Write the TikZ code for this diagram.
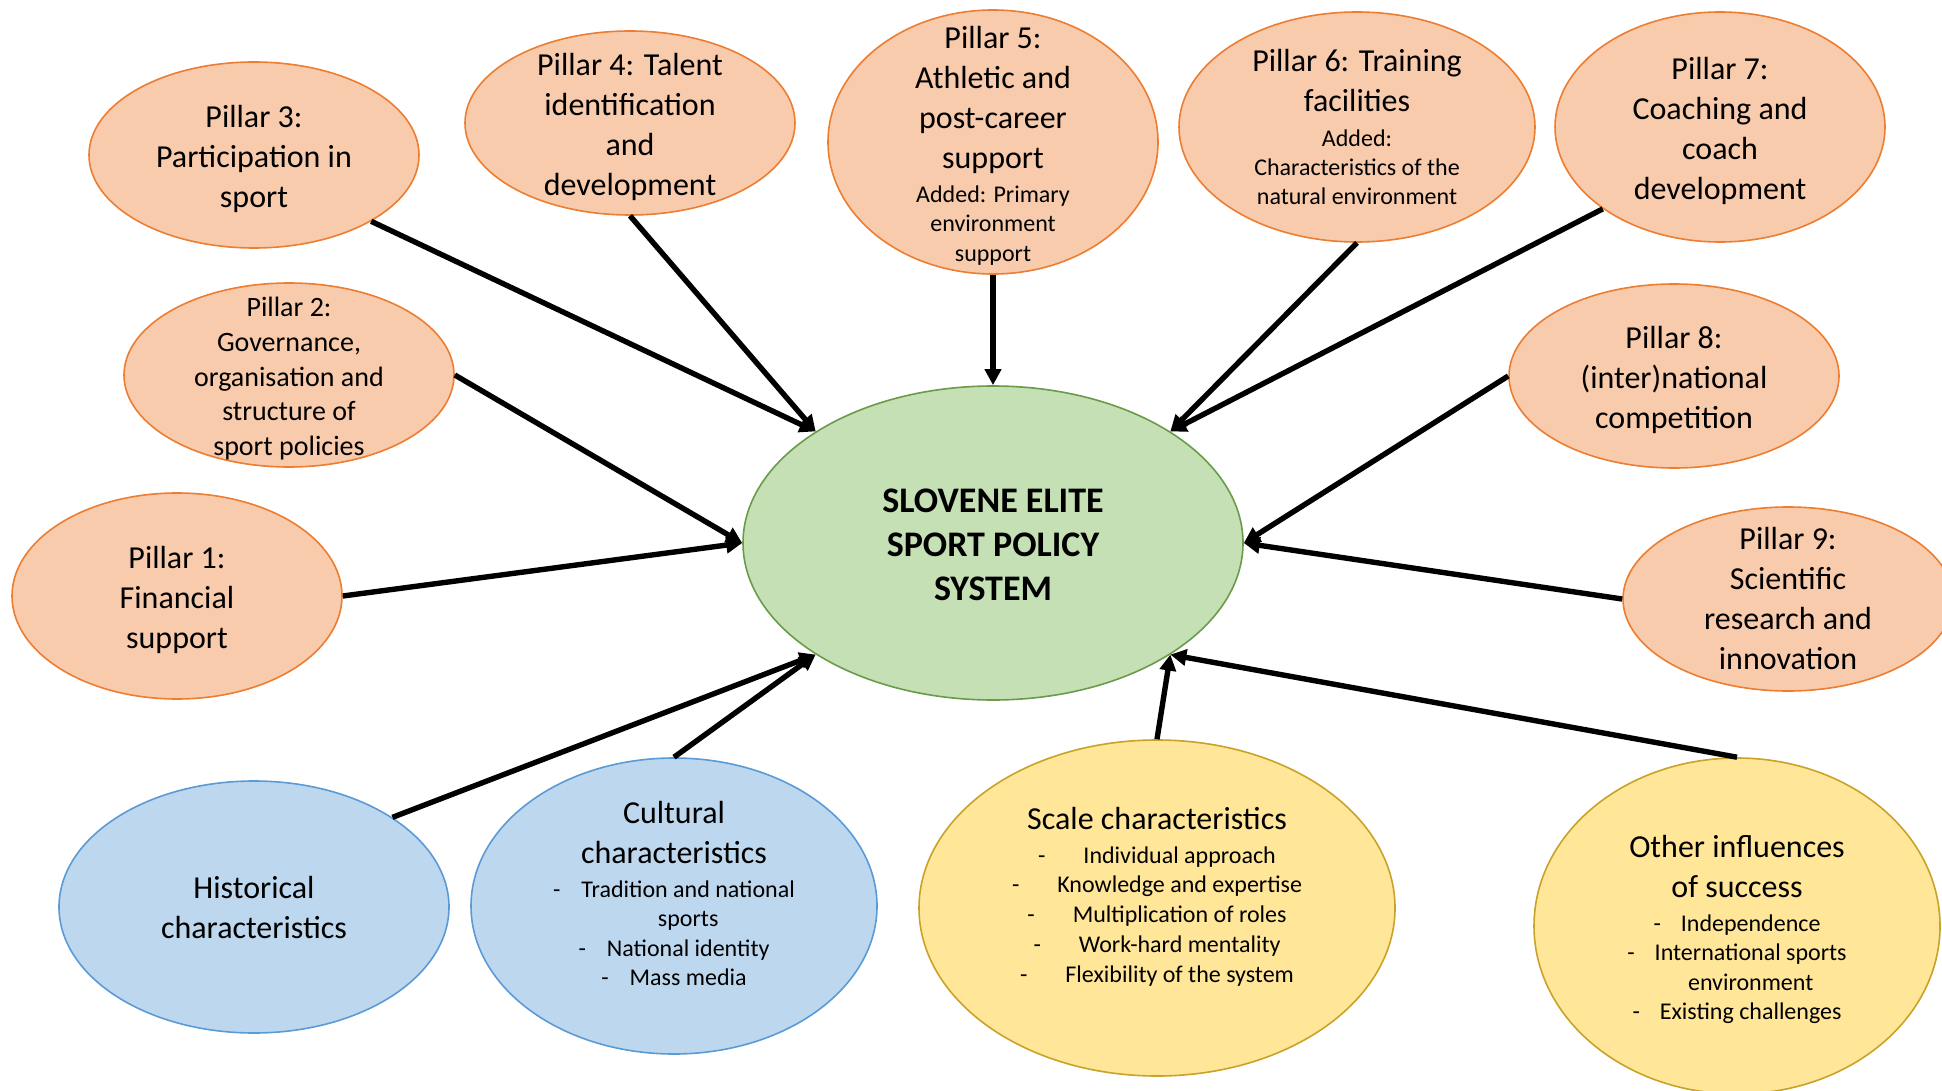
\documentclass[tikz,border=0pt]{standalone}
\usepackage{fontspec}
\setmainfont{Carlito}
\usetikzlibrary{arrows.meta,shapes.geometric}

\definecolor{pillarfill}{HTML}{F8CBAD}
\definecolor{pillarline}{HTML}{ED7D31}
\definecolor{corefill}{HTML}{C5E0B4}
\definecolor{coreline}{HTML}{6A9A4A}
\definecolor{contextfill}{HTML}{BDD7EE}
\definecolor{contextline}{HTML}{5B9BD5}
\definecolor{extrafill}{HTML}{FFE699}
\definecolor{extraline}{HTML}{C9A227}

\newcommand{\bigtext}{\fontsize{16}{20}\selectfont}
\newcommand{\midtext}{\fontsize{14}{17.4}\selectfont}
\newcommand{\smalltext}{\fontsize{12}{14.8}\selectfont}
\newcommand{\dashitem}[2]{\smalltext -\hspace{#1}#2}
\newcommand{\dashcont}[2]{\smalltext \phantom{-}\hspace{#1}#2}

\begin{document}
\begin{tikzpicture}[x=0.5pt, y=-0.5pt,
    bubble/.style={ellipse, line width=0.8pt, inner sep=0pt},
    pillar/.style={bubble, draw=pillarline, fill=pillarfill},
    core/.style={bubble, draw=coreline, fill=corefill},
    context/.style={bubble, draw=contextline, fill=contextfill},
    extra/.style={bubble, draw=extraline, fill=extrafill},
    txt/.style={align=center, inner sep=0pt, font=\bigtext, yshift=-1.8pt},
    link/.style={line width=2.7pt, -{Triangle[length=8pt, width=8pt]}}]
  \useasboundingbox (0, 0) rectangle (1942, 1091);

  % centre
  \node[core, minimum width=250pt, minimum height=157pt,
    label={[txt, yshift=1pt, font=\fontsize{18}{22}\selectfont\bfseries]center:SLOVENE ELITE\\SPORT POLICY\\SYSTEM}]
    (system) at (993, 543) {};

  % the nine pillars
  \node[pillar, minimum width=165pt, minimum height=103pt,
    label={[txt]center:Pillar 1:\\Financial\\support}] (pillar1) at (177, 596) {};
  \node[pillar, minimum width=165pt, minimum height=92pt,
    label={[txt, font=\midtext]center:Pillar 2:\\Governance,\\organisation and\\structure of\\sport policies}]
    (pillar2) at (289, 375) {};
  \node[pillar, minimum width=165pt, minimum height=93pt,
    label={[txt]center:Pillar 3:\\Participation in\\sport}] (pillar3) at (254, 155) {};
  \node[pillar, minimum width=165pt, minimum height=92pt,
    label={[txt]center:Pillar 4: Talent\\identification\\and\\development}] (pillar4) at (630, 123) {};
  \node[pillar, minimum width=165pt, minimum height=132pt,
    label={[txt]center:Pillar 5:\\Athletic and\\post-career\\support\\[-3pt]\smalltext Added: Primary\\[-5.2pt]\smalltext environment\\[-5.2pt]\smalltext support}]
    (pillar5) at (993, 142) {};
  \node[pillar, minimum width=178pt, minimum height=115pt,
    label={[txt, yshift=1.8pt]center:Pillar 6: Training\\facilities\\[-2.7pt]\smalltext Added:\\[-5.4pt]\smalltext Characteristics of the\\[-5.4pt]\smalltext natural environment}]
    (pillar6) at (1357, 127) {};
  \node[pillar, minimum width=165pt, minimum height=115pt,
    label={[txt]center:Pillar 7:\\Coaching and\\coach\\development}] (pillar7) at (1720, 127) {};
  \node[pillar, minimum width=165pt, minimum height=92pt,
    label={[txt]center:Pillar 8:\\(inter)national\\competition}] (pillar8) at (1674, 376) {};
  \node[pillar, minimum width=165pt, minimum height=92pt,
    label={[txt, yshift=1.8pt]center:Pillar 9:\\Scientific\\research and\\innovation}] (pillar9) at (1788, 599) {};

  % context and other influences
  \node[context, minimum width=195pt, minimum height=126pt,
    label={[txt, yshift=1.5pt]center:Historical\\characteristics}] (historical) at (254, 907) {};
  \node[context, minimum width=203pt, minimum height=148pt,
    label={[txt, yshift=8pt]center:Cultural\\characteristics\\[-3pt]\dashitem{10.5pt}{Tradition and national}\\[-5.3pt]\dashcont{10.5pt}{sports}\\[-5.3pt]\dashitem{10.5pt}{National identity}\\[-5.3pt]\dashitem{10.5pt}{Mass media}}]
    (cultural) at (674, 906) {};
  \node[extra, minimum width=238pt, minimum height=168pt,
    label={[txt, yshift=7.5pt]center:Scale characteristics\\[-3pt]\dashitem{19pt}{Individual approach}\\[-5.1pt]\dashitem{19pt}{Knowledge and expertise}\\[-5.1pt]\dashitem{19pt}{Multiplication of roles}\\[-5.1pt]\dashitem{19pt}{Work-hard mentality}\\[-5.1pt]\dashitem{19pt}{Flexibility of the system}}]
    (scalechar) at (1157, 908) {};
  \node[extra, minimum width=203pt, minimum height=168pt,
    label={[txt]center:Other influences\\of success\\[-3pt]\dashitem{10pt}{Independence}\\[-5.3pt]\dashitem{10pt}{International sports}\\[-5.3pt]\dashcont{10pt}{environment}\\[-5.3pt]\dashitem{10pt}{Existing challenges}}]
    (other) at (1737, 926) {};

  % arrows into the centre
  \draw[link] (pillar3.south east) -- (system.north west);
  \draw[link] (pillar4.south) -- (system.north west);
  \draw[link] (pillar5.south) -- (system.north);
  \draw[link] (pillar6.south) -- (system.north east);
  \draw[link] (pillar7.south west) -- (system.north east);
  \draw[link] (pillar2.east) -- (system.west);
  \draw[link] (pillar1.east) -- (system.west);
  \draw[link] (pillar8.west) -- (system.east);
  \draw[link] (pillar9.west) -- (system.east);
  \draw[link] (historical.north east) -- (system.south west);
  \draw[link] (cultural.north) -- (system.south west);
  \draw[link] (scalechar.north) -- (system.south east);
  \draw[link] (other.north) -- (system.south east);
\end{tikzpicture}
\end{document}
